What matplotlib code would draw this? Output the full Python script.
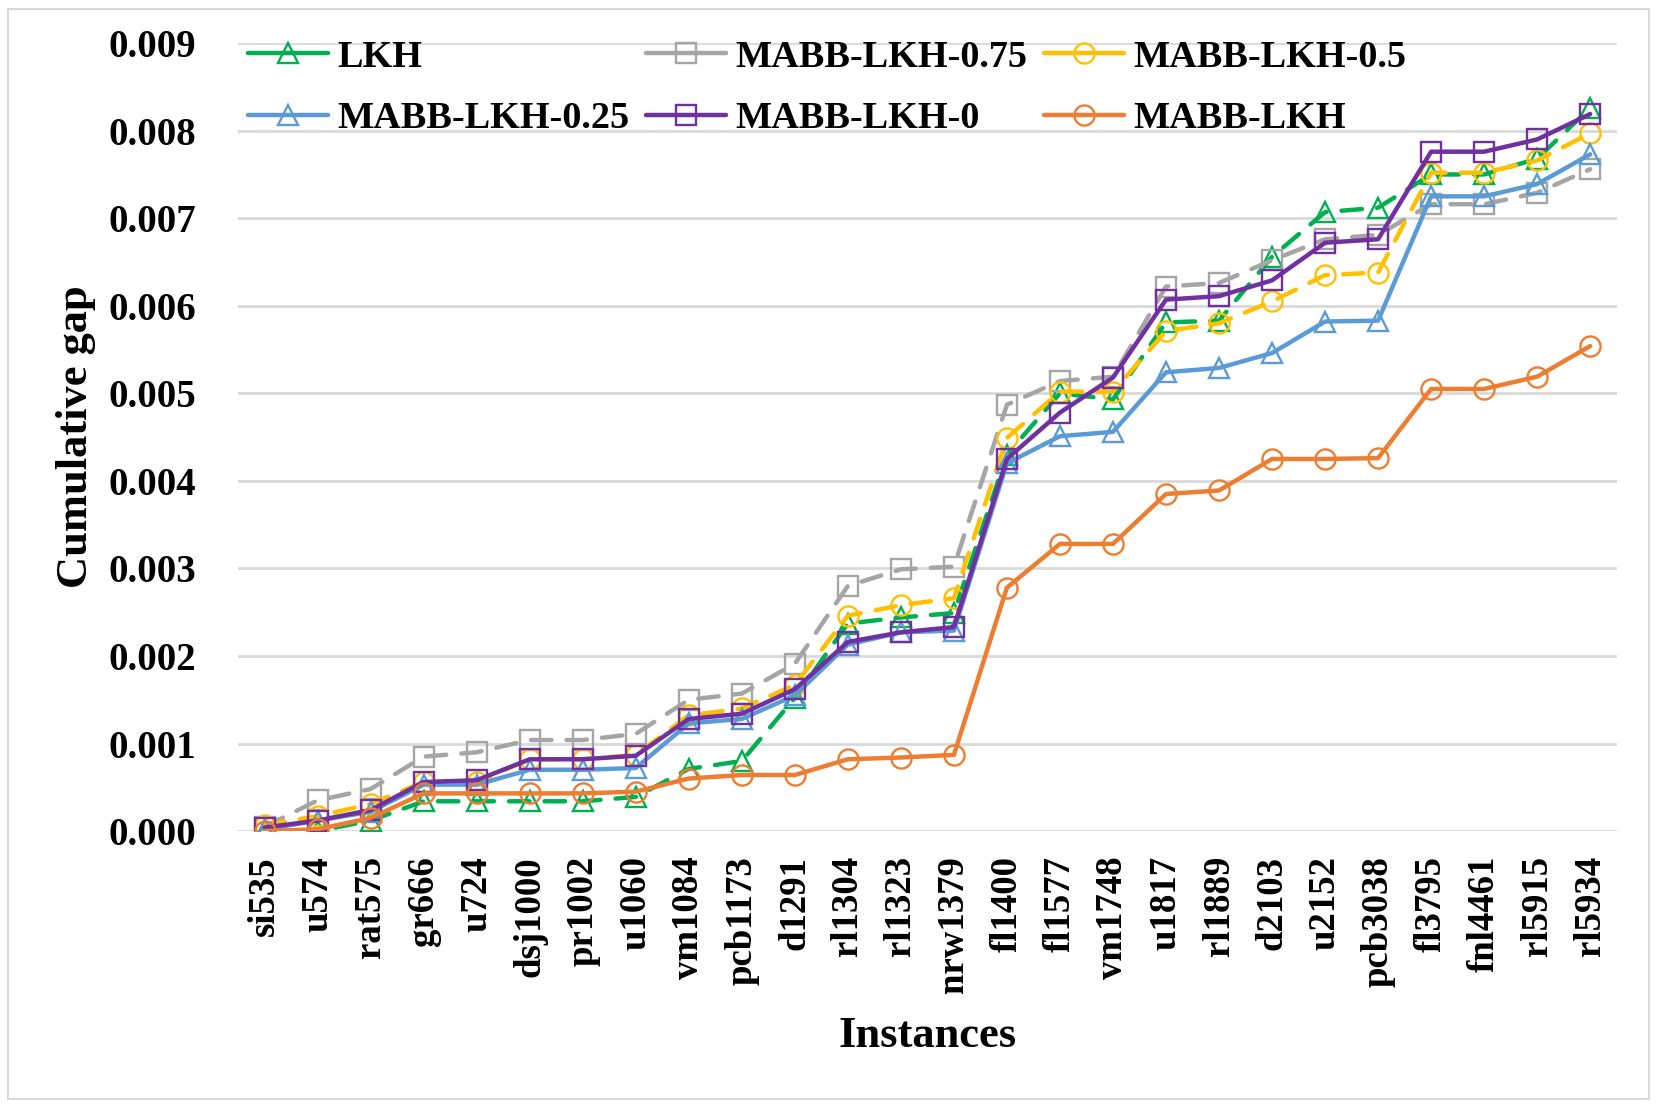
import matplotlib.pyplot as plt
from matplotlib.lines import Line2D
from matplotlib.patches import Rectangle

instances = ['si535', 'u574', 'rat575', 'gr666', 'u724', 'dsj1000', 'pr1002', 'u1060',
             'vm1084', 'pcb1173', 'd1291', 'rl1304', 'rl1323', 'nrw1379', 'fl1400', 'fl1577',
             'vm1748', 'u1817', 'rl1889', 'd2103', 'u2152', 'pcb3038', 'fl3795', 'fnl4461',
             'rl5915', 'rl5934']

lkh = [0.00000, 0.00000, 0.00012, 0.00034, 0.00034, 0.00034, 0.00034, 0.00039,
       0.00071, 0.00080, 0.00152, 0.00237, 0.00244, 0.00249, 0.00430, 0.00500,
       0.00493, 0.00581, 0.00583, 0.00656, 0.00707, 0.00712, 0.00750, 0.00750,
       0.00768, 0.00826]
mabb_075 = [0.00005, 0.00035, 0.00048, 0.00085, 0.00090, 0.00104, 0.00104, 0.00111,
            0.00150, 0.00157, 0.00191, 0.00280, 0.00299, 0.00302, 0.00487, 0.00514,
            0.00519, 0.00622, 0.00626, 0.00652, 0.00676, 0.00681, 0.00716, 0.00716,
            0.00729, 0.00756]
mabb_05 = [0.00007, 0.00017, 0.00031, 0.00056, 0.00056, 0.00082, 0.00082, 0.00087,
           0.00132, 0.00140, 0.00167, 0.00246, 0.00258, 0.00266, 0.00449, 0.00502,
           0.00502, 0.00571, 0.00580, 0.00605, 0.00635, 0.00638, 0.00752, 0.00752,
           0.00766, 0.00797]
mabb_025 = [0.00002, 0.00012, 0.00022, 0.00053, 0.00053, 0.00070, 0.00070, 0.00072,
            0.00123, 0.00128, 0.00155, 0.00213, 0.00227, 0.00229, 0.00420, 0.00451,
            0.00456, 0.00524, 0.00529, 0.00546, 0.00582, 0.00583, 0.00725, 0.00725,
            0.00739, 0.00773]
mabb_0 = [0.00004, 0.00012, 0.00024, 0.00056, 0.00058, 0.00082, 0.00082, 0.00086,
          0.00128, 0.00134, 0.00162, 0.00216, 0.00227, 0.00233, 0.00425, 0.00478,
          0.00518, 0.00607, 0.00611, 0.00629, 0.00672, 0.00676, 0.00776, 0.00776,
          0.00790, 0.00819]
mabb = [0.00000, 0.00002, 0.00015, 0.00043, 0.00043, 0.00043, 0.00043, 0.00045,
        0.00060, 0.00064, 0.00064, 0.00082, 0.00084, 0.00087, 0.00278, 0.00328,
        0.00328, 0.00385, 0.00389, 0.00425, 0.00425, 0.00426, 0.00505, 0.00505,
        0.00519, 0.00554]

dash = (0, (4.6, 3.4))
series = [
    ('LKH', lkh, '#00B050', '^', dash),
    ('MABB-LKH-0.75', mabb_075, '#A5A5A5', 's', dash),
    ('MABB-LKH-0.5', mabb_05, '#FFC000', 'o', dash),
    ('MABB-LKH-0.25', mabb_025, '#5B9BD5', '^', '-'),
    ('MABB-LKH-0', mabb_0, '#7030A0', 's', '-'),
    ('MABB-LKH', mabb, '#ED7D31', 'o', '-'),
]

plt.rcParams['font.family'] = ['Liberation Serif', 'DejaVu Serif']
plt.rcParams['font.weight'] = 'bold'

fig = plt.figure(figsize=(16.59, 11.06), dpi=100)
ax = fig.add_axes([0.1435, 0.2486, 0.831, 0.7124])

x = list(range(len(instances)))
handles = {}
for name, values, color, marker, ls in series:
    ax.plot(x, values, color=color, linestyle=ls, linewidth=3.2,
            dash_capstyle='round', solid_capstyle='round', solid_joinstyle='round',
            marker=marker, markersize=14.5, markerfacecolor='none',
            markeredgecolor=color, markeredgewidth=1.7, zorder=3)
    # legend keys in the reference are drawn as short solid lines
    handles[name] = Line2D([], [], color=color, linewidth=3.2, solid_capstyle='round',
                           marker=marker, markersize=14.5, markerfacecolor='none',
                           markeredgecolor=color, markeredgewidth=1.7)

ax.set_xlim(-0.5, len(instances) - 0.5)
ax.set_ylim(0, 0.009)
ax.set_yticks([i * 0.001 for i in range(10)])
ax.set_yticklabels(['%.3f' % (i * 0.001) for i in range(10)])
ax.set_xticks(x)
ax.set_xticklabels(instances, rotation=90)
ax.tick_params(axis='both', length=0)
ax.tick_params(axis='y', pad=30, labelsize=28)
ax.tick_params(axis='x', pad=18, labelsize=26.5)
for lab in ax.get_xticklabels() + ax.get_yticklabels():
    lab.set_fontweight('bold')

ax.grid(axis='y', color='#D9D9D9', linewidth=2)
ax.set_axisbelow(True)
for sp in ax.spines.values():
    sp.set_visible(False)

# legend: 2 rows x 3 columns, filled column-wise
order = ['LKH', 'MABB-LKH-0.25', 'MABB-LKH-0.75', 'MABB-LKH-0', 'MABB-LKH-0.5', 'MABB-LKH']
leg = ax.legend([handles[n] for n in order], order, ncol=3, loc='upper left',
                bbox_to_anchor=(-0.004, 1.024), frameon=False, fontsize=27.5,
                handlelength=2.1, handletextpad=0.25, columnspacing=0.42,
                labelspacing=0.7, borderaxespad=0)
for t in leg.get_texts():
    t.set_fontweight('bold')

fig.text(0.046, 0.605, 'Cumulative gap', rotation=90, ha='center', va='center',
         fontsize=32, fontweight='bold')
fig.text(0.559, 0.063, 'Instances', ha='center', va='center',
         fontsize=32, fontweight='bold')

fig.patches.append(Rectangle((0.005, 0.006), 0.989, 0.986, transform=fig.transFigure,
                             fill=False, edgecolor='#D9D9D9', linewidth=1.5))

fig.savefig('out.png', dpi=100)
